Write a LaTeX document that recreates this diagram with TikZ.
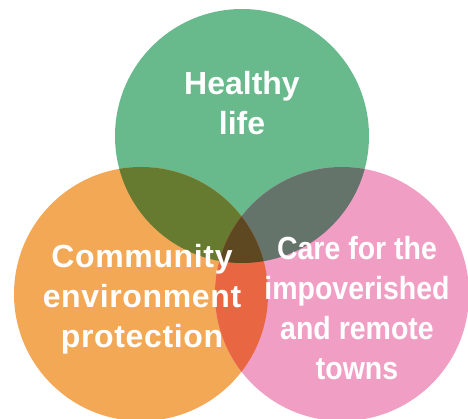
\documentclass[tikz,border=0pt]{standalone}
\usepackage{fontspec}
\setmainfont{Liberation Sans}
\newfontfamily\narrowfont[FakeStretch=0.89]{Liberation Sans}
\newfontfamily\widefont[LetterSpace=2]{Liberation Sans}

\definecolor{healthgreen}{RGB}{104,185,139}
\definecolor{envorange}{RGB}{243,168,86}
\definecolor{carepink}{RGB}{241,158,196}
\definecolor{olivemix}{RGB}{102,122,48}
\definecolor{greymix}{RGB}{100,116,106}
\definecolor{redmix}{RGB}{233,102,66}
\definecolor{brownmix}{RGB}{94,72,34}

\begin{document}
\begin{tikzpicture}[
    x=1pt,y=-1pt,
    every node/.style={text=white, align=center, font=\fontsize{32}{40}\selectfont\bfseries},
    narrow/.style={font=\fontsize{32}{40}\selectfont\narrowfont\bfseries},
    wide/.style={font=\fontsize{32}{40}\selectfont\widefont\bfseries}
]
    \useasboundingbox (0,0) rectangle (468,419);
    \coordinate (cg) at (242,136);
    \coordinate (co) at (141,294);
    \coordinate (cp) at (342,294);

    % the three circles
    \fill[healthgreen] (cg) circle (127);
    \fill[envorange] (co) circle (127);
    \fill[carepink] (cp) circle (127);

    % pairwise overlaps
    \begin{scope}
        \clip (cg) circle (127);
        \fill[olivemix] (co) circle (127);
        \fill[greymix] (cp) circle (127);
    \end{scope}
    \begin{scope}
        \clip (co) circle (127);
        \fill[redmix] (cp) circle (127);
        \clip (cp) circle (127);
        \fill[brownmix] (cg) circle (127);
    \end{scope}

    \node (health) at (242,103) {Healthy\\life};
    \node[wide] (community) at (142,299) {Community\\environment\\protection};
    \node[narrow] (care) at (357,308) {Care for the\\impoverished\\and remote\\towns};
\end{tikzpicture}
\end{document}
